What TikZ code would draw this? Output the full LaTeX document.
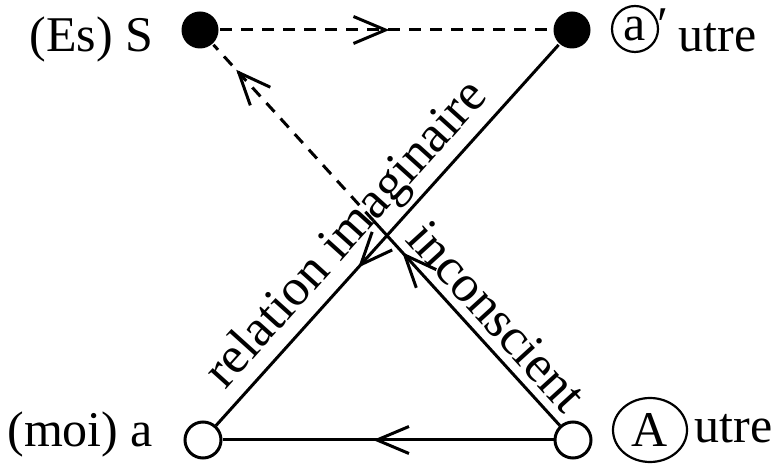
\documentclass[tikz,border=0pt]{standalone}
\usepackage{fontspec}
\setmainfont{Liberation Serif}
\usetikzlibrary{arrows.meta, decorations.markings, shapes.geometric, calc, positioning}
\tikzset{
  full/.style={
    circle,
    fill=black,
    minimum size=37pt,
    inner sep=0pt
  },
  hollow/.style={
    circle,
    draw=black,
    fill=white,
    minimum size=36pt,
    inner sep=0pt
  },
  ring/.style={
    draw=black,
    line width=2.2pt,
    inner sep=0pt
  },
  along/.style={
    sloped,
    above,
    inner sep=4pt,
    font=\fontsize{52}{52}\selectfont
  },
  midarrow/.style={
    postaction={decorate},
    decoration={markings,
      mark=at position #1 with {\arrow{Straight Barb[length=32pt,width=27pt]}}}
  },
  backarrow/.style={
    postaction={decorate},
    decoration={markings,
      mark=at position #1 with {\arrowreversed{Straight Barb[length=32pt,width=27pt]}}}
  }
}

\begin{document}
\begin{tikzpicture}[x=1pt, y=1pt, line width=3pt,
    every node/.style={font=\fontsize{50}{50}\selectfont}]
  \useasboundingbox (0,0) rectangle (783,470);

  \node[full] (S) at (200,440) {};
  \node[full] (ap) at (572,440) {};
  \node[hollow] (a) at (203,30) {};
  \node[hollow] (A) at (573,30) {};
  \coordinate (brk) at ($(A)!0.535!(S)$);

  \node[anchor=base east] (es) at (158,418) {(Es) S};
  \node[anchor=base east] (moi) at (158,23) {(moi) a};
  \node[ring, circle, minimum size=46pt] (ra) at (635,441) {a};
  \node[anchor=base west, inner sep=0pt] (prime) at (656,428) {′};
  \node[anchor=base west, inner sep=0pt] (utre1) at (677,418) {utre};
  \node[ring, ellipse, minimum width=74pt, minimum height=64pt] (rA) at (650,40) {A};
  \node[anchor=base west, inner sep=0pt] (utre2) at (693,27) {utre};

  \path (S) edge[dash pattern=on 12pt off 9pt, midarrow=0.51] (ap)
        (A) edge[midarrow=0.545] (a)
        (a) edge[backarrow=0.415] node[along, pos=0.448]{relation imaginaire} (ap)
        (brk) edge[backarrow=0.154] node[along, inner sep=8pt, pos=0.556]{inconscient} (A)
        (brk) edge[dash pattern=on 12pt off 9pt, midarrow=0.858] (S);
\end{tikzpicture}
\end{document}
